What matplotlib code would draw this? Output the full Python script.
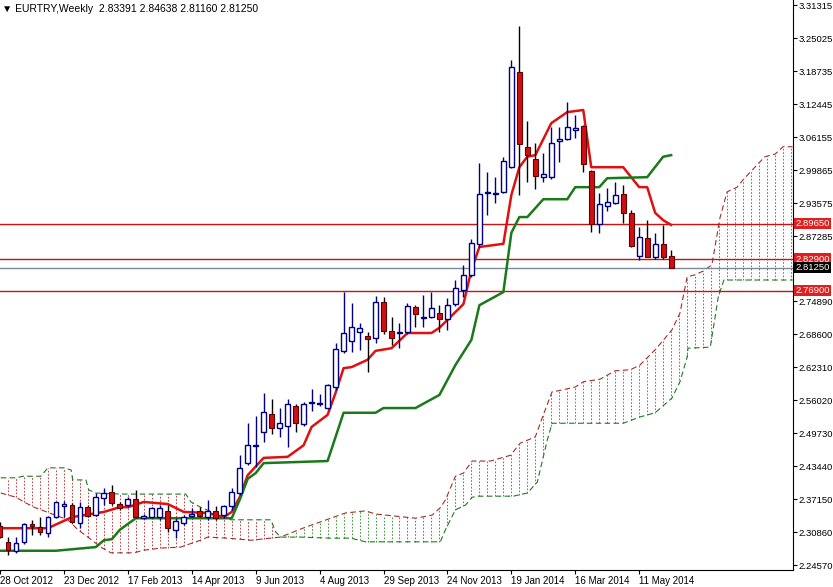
import matplotlib
matplotlib.use("Agg")
import matplotlib.pyplot as plt
import numpy as np

plt.rcParams['font.family'] = ['Liberation Sans', 'DejaVu Sans']

weeks = list(range(-1, 84))
opens = [2.320,2.290,2.273,2.290,2.324,2.318,2.307,2.337,2.358,2.360,2.326,2.356,2.341,2.374,2.385,2.362,2.360,2.372,2.335,2.337,2.337,2.349,2.313,2.326,2.339,2.349,2.337,2.349,2.341,2.358,2.383,2.440,2.473,2.499,2.534,2.507,2.511,2.549,2.515,2.555,2.553,2.545,2.585,2.654,2.673,2.690,2.682,2.678,2.747,2.692,2.688,2.690,2.738,2.717,2.718,2.726,2.715,2.743,2.770,2.799,2.858,2.955,2.953,2.957,3.004,3.185,3.043,3.020,2.985,2.985,3.054,3.058,3.075,3.083,2.997,2.896,2.930,2.936,2.953,2.917,2.835,2.869,2.833,2.858,2.83391]
highs = [2.328,2.299,2.299,2.326,2.332,2.337,2.339,2.366,2.368,2.364,2.366,2.360,2.383,2.393,2.398,2.366,2.375,2.389,2.343,2.356,2.360,2.360,2.335,2.341,2.355,2.356,2.370,2.358,2.360,2.393,2.455,2.516,2.530,2.574,2.562,2.545,2.562,2.553,2.557,2.581,2.572,2.591,2.669,2.766,2.745,2.707,2.690,2.758,2.757,2.718,2.707,2.745,2.741,2.760,2.766,2.741,2.755,2.789,2.818,2.867,3.012,2.995,2.985,3.024,3.208,3.273,3.092,3.050,3.031,3.081,3.081,3.128,3.103,3.084,2.999,2.955,2.964,2.976,2.970,2.922,2.890,2.903,2.879,2.894,2.84638]
lows = [2.297,2.265,2.269,2.286,2.303,2.303,2.299,2.335,2.337,2.326,2.316,2.337,2.339,2.360,2.360,2.351,2.356,2.335,2.334,2.335,2.332,2.309,2.297,2.322,2.337,2.337,2.332,2.332,2.335,2.351,2.379,2.436,2.433,2.480,2.495,2.490,2.471,2.499,2.511,2.539,2.549,2.543,2.579,2.650,2.652,2.656,2.614,2.669,2.686,2.665,2.659,2.686,2.699,2.699,2.717,2.690,2.694,2.739,2.757,2.795,2.852,2.913,2.936,2.955,3.003,2.951,2.976,2.963,2.976,2.982,3.014,3.056,3.060,2.995,2.881,2.879,2.921,2.934,2.898,2.852,2.827,2.833,2.829,2.829,2.81160]
closes = [2.299,2.274,2.288,2.324,2.320,2.309,2.337,2.366,2.362,2.328,2.356,2.339,2.375,2.383,2.364,2.355,2.372,2.337,2.339,2.355,2.355,2.316,2.330,2.337,2.343,2.339,2.349,2.335,2.358,2.385,2.431,2.474,2.474,2.537,2.507,2.516,2.553,2.516,2.553,2.556,2.555,2.589,2.658,2.688,2.699,2.698,2.677,2.747,2.692,2.678,2.690,2.739,2.724,2.718,2.736,2.715,2.741,2.774,2.799,2.860,2.953,2.957,2.955,3.016,3.195,3.048,3.027,2.987,2.991,3.050,3.058,3.081,3.079,3.010,2.896,2.934,2.938,2.951,2.917,2.854,2.871,2.833,2.858,2.833,2.81250]

tenkan_k = [-1,5,8,12,14,15,17,20,22,25,27,28,29,30,32,35,37,38,40,41,42,43,45,46,48,50,53,54,55,56,57,58,59,62,63,64,65,66,68,70,72,73,77,79,80,81,82,83]
tenkan_v = [2.316,2.316,2.337,2.347,2.356,2.356,2.366,2.362,2.347,2.345,2.337,2.347,2.375,2.417,2.450,2.452,2.474,2.509,2.532,2.574,2.621,2.623,2.637,2.654,2.659,2.688,2.688,2.698,2.713,2.728,2.743,2.808,2.852,2.858,2.951,3.004,3.024,3.027,3.088,3.109,3.113,3.004,3.004,2.966,2.966,2.917,2.903,2.894]
kijun_k = [-1,6,11,12,13,14,16,28,29,30,31,32,40,42,46,47,51,54,56,58,59,62,63,64,65,67,70,71,74,75,80,82,83]
kijun_v = [2.273,2.273,2.280,2.293,2.295,2.313,2.335,2.335,2.370,2.410,2.421,2.440,2.444,2.536,2.536,2.545,2.545,2.570,2.627,2.675,2.741,2.766,2.879,2.909,2.909,2.943,2.943,2.966,2.966,2.983,2.985,3.024,3.027]

spanA_k = [-0.9,1,2,3.25,7.5,8.75,10,11.6,12.9,15.75,17,19.1,21.6,24.1,25,27.5,30.4,34.1,37.25,40.4,42.25,44.75,46,48.5,51,53.1,54.1,54.75,56,57,58.1,60.4,62.9,64.1,66,67,68.1,68.9,71,72,74.1,76,77.9,79.1,81,83.1,84.1,85,86,87,88.1,89.1,90,91.25,92,94.1,94.75,96,97,98.2]
spanA_v = [2.383,2.375,2.366,2.356,2.332,2.313,2.299,2.280,2.269,2.269,2.274,2.278,2.280,2.293,2.299,2.297,2.293,2.299,2.318,2.335,2.345,2.349,2.343,2.339,2.335,2.341,2.355,2.370,2.415,2.421,2.444,2.444,2.455,2.478,2.490,2.532,2.576,2.578,2.585,2.595,2.600,2.616,2.618,2.627,2.656,2.694,2.726,2.795,2.799,2.806,2.818,2.907,2.957,2.966,2.980,3.014,3.024,3.029,3.043,3.043]
spanB_k = [-0.9,1,1.9,4.1,5,7,7.9,8.1,9.75,10.1,11,14.1,22.25,22.9,24.1,27.9,32.9,33.5,34.1,36.6,40.4,42.9,44.75,54.1,54.75,56,57.25,58.1,58.9,63.25,65,66.25,67.5,68.1,77,79.1,81,83.1,84.1,85,85.1,87.9,88.9,89.6,98.2]
spanB_v = [2.412,2.412,2.415,2.415,2.431,2.431,2.427,2.408,2.408,2.389,2.383,2.381,2.381,2.366,2.356,2.332,2.332,2.309,2.299,2.299,2.297,2.297,2.290,2.290,2.313,2.351,2.360,2.375,2.377,2.377,2.383,2.404,2.484,2.516,2.516,2.528,2.536,2.564,2.595,2.642,2.659,2.661,2.757,2.789,2.789]

levels = [2.89650, 2.82900, 2.76900]
bid = 2.81250
tick_vals = [3.31315,3.25025,3.18735,3.12445,3.06155,2.99865,2.93575,2.87285,2.74890,2.68600,2.62310,2.56020,2.49730,2.43440,2.37150,2.30860,2.24570]
date_labels = ["28 Oct 2012","23 Dec 2012","17 Feb 2013","14 Apr 2013","9 Jun 2013","4 Aug 2013","29 Sep 2013","24 Nov 2013","19 Jan 2014","16 Mar 2014","11 May 2014"]
date_pos = [-1,7,15,23,31,39,47,55,63,71,79]

fig = plt.figure(figsize=(8.33,5.87), dpi=100)
ax = fig.add_axes([0, 17/587, 793/833, 570/587])
ymin, ymax = 2.2363, 3.3227
ax.set_xlim(-0.875, 98.25)
ax.set_ylim(ymin, ymax)

A_int = np.interp(np.arange(0, 99), spanA_k, spanA_v)
B_int = np.interp(np.arange(0, 99), spanB_k, spanB_v)
for i, (a, b) in enumerate(zip(A_int, B_int)):
    col = '#b22222' if b > a else '#228b22'
    ax.vlines(i, min(a, b), max(a, b), colors=col, linestyles=(0, (2, 2)), linewidth=0.6)
ax.plot(spanA_k, spanA_v, color='#a0302a', lw=0.8, ls=(0, (5, 3)))
ax.plot(spanB_k, spanB_v, color='#1f7a1f', lw=0.8, ls=(0, (5, 3)))

for lv in levels:
    ax.axhline(lv, color='#cc1111', lw=1)
ax.axhline(bid, color='#7a8a99', lw=1)

ax.plot(tenkan_k, tenkan_v, color='#e01010', lw=1.8, solid_joinstyle='round')
ax.plot(kijun_k, kijun_v, color='#1a7a1a', lw=1.8, solid_joinstyle='round')

w = 0.6
for k, o, h, l, c in zip(weeks, opens, highs, lows, closes):
    if c >= o:
        ax.vlines(k, l, h, color='#000080', lw=1, zorder=4)
        ax.add_patch(plt.Rectangle((k - w/2, o), w, max(c - o, 0.0015), facecolor='white', edgecolor='#000080', lw=1, zorder=5))
    else:
        ax.vlines(k, l, h, color='#000000', lw=1, zorder=4)
        ax.add_patch(plt.Rectangle((k - w/2, c), w, o - c, facecolor='#d01010', edgecolor='#600000', lw=0.8, zorder=5))

for s in ['top', 'left']:
    ax.spines[s].set_visible(False)
ax.yaxis.tick_right()
ax.set_yticks(tick_vals)
ax.set_yticklabels([f"{v:.5f}" for v in tick_vals], fontsize=6.8)
ax.tick_params(axis='y', length=3, pad=1)
ax.set_xticks(date_pos)
ax.set_xticklabels(date_labels, fontsize=7, ha='left')
ax.tick_params(axis='x', length=3, pad=1)

for lv in levels:
    ax.text(1.003, lv, f"{lv:.5f}", transform=ax.get_yaxis_transform(), fontsize=6.8, color='white',
            va='center', ha='left', bbox=dict(boxstyle='square,pad=0.12', fc='#e02020', ec='none'))
ax.text(1.003, bid, f"{bid:.5f}", transform=ax.get_yaxis_transform(), fontsize=6.8, color='white',
        va='center', ha='left', bbox=dict(boxstyle='square,pad=0.12', fc='black', ec='none'))

fig.text(2/833, 1 - 9/587, "▼ EURTRY,Weekly  2.83391 2.84638 2.81160 2.81250", fontsize=7.5, va='center', ha='left')
fig.savefig("out.png", dpi=100, facecolor='white')
